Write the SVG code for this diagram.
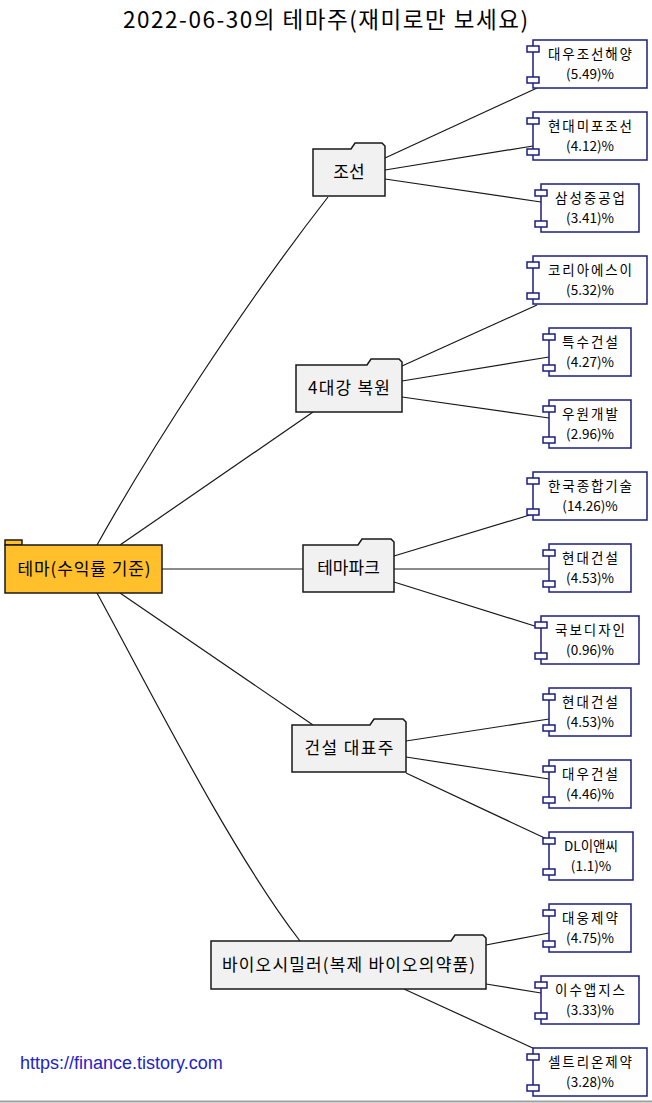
<svg xmlns="http://www.w3.org/2000/svg" width="652" height="1103" viewBox="0 0 652 1103">
<style>
text{font-family:"Noto Sans CJK KR","Noto Sans",sans-serif;fill:#000}
.title{font-size:22.5px}
.fl{font-size:17px}
.cl{font-size:13.5px}
.folder{fill:#F1F1F1;stroke:#181818;stroke-width:1.5}
.root{fill:#FFC02B;stroke:#181818;stroke-width:1.5}
.comp rect{fill:#FEFEFE;stroke:#1C1C80;stroke-width:1.5}
.edge{fill:none;stroke:#181818;stroke-width:1.2}
.url{font-family:"Liberation Sans",Arial,sans-serif;font-size:18px;fill:#2222CC}
</style>
<rect width="652" height="1103" fill="#FFFFFF"/>
<text class="title" x="325.5" y="28" text-anchor="middle" textLength="405" lengthAdjust="spacing">2022-06-30의 테마주(재미로만 보세요)</text>

<g id="connectors">
<path class="edge" d="M97,545 C150,450 240,310 328,197"/>
<path class="edge" d="M120,545 L313,412"/>
<path class="edge" d="M162,569 L303,569"/>
<path class="edge" d="M120,593 L313,725"/>
<path class="edge" d="M97,593 C150,690 230,850 300,941"/>
<path class="edge" d="M385,158 L537,88"/>
<path class="edge" d="M385,170 L533,146"/>
<path class="edge" d="M385,179 L541,202"/>
<path class="edge" d="M402,366 L537,305"/>
<path class="edge" d="M402,381 L549,357"/>
<path class="edge" d="M402,397 L549,418"/>
<path class="edge" d="M394,556 L533,514"/>
<path class="edge" d="M394,569 L549,569"/>
<path class="edge" d="M394,582 L541,628"/>
<path class="edge" d="M406,741 L549,719"/>
<path class="edge" d="M406,757 L549,779"/>
<path class="edge" d="M406,773 L549,840"/>
<path class="edge" d="M486,945 L549,933"/>
<path class="edge" d="M486,984 L541,993"/>
<path class="edge" d="M404,989 L537,1050"/>
</g>

<g id="root">
<rect class="root" x="5" y="540" width="17" height="5"/>
<rect class="root" x="5" y="545" width="157" height="48"/>
<text class="fl" x="84" y="575" text-anchor="middle" textLength="133" lengthAdjust="spacing">테마(수익률 기준)</text>
</g>

<g id="f-josun">
<path class="folder" d="M313,149 H351 L355,143 H382 L385,146 V196 H313 Z"/>
<text class="fl" x="349" y="178" text-anchor="middle">조선</text>
</g>
<g id="f-4river">
<path class="folder" d="M296,365 H367 L371,359 H399 L402,362 V412 H296 Z"/>
<text class="fl" x="349" y="394" text-anchor="middle" textLength="82" lengthAdjust="spacing">4대강 복원</text>
</g>
<g id="f-themepark">
<path class="folder" d="M303,545 H358 L362,539 H391 L394,542 V592 H303 Z"/>
<text class="fl" x="348.5" y="574" text-anchor="middle">테마파크</text>
</g>
<g id="f-construct">
<path class="folder" d="M292,725 H370 L374,719 H403 L406,722 V772 H292 Z"/>
<text class="fl" x="349" y="754" text-anchor="middle" textLength="89" lengthAdjust="spacing">건설 대표주</text>
</g>
<g id="f-bio">
<path class="folder" d="M211,941 H451 L455,935 H483 L486,938 V989 H211 Z"/>
<text class="fl" x="348.5" y="971" text-anchor="middle" textLength="253" lengthAdjust="spacing">바이오시밀러(복제 바이오의약품)</text>
</g>

<g id="c1" class="comp"><rect x="533" y="40" width="114" height="48"/><rect x="527" y="46" width="12" height="6"/><rect x="527" y="77" width="12" height="6"/><text class="cl" x="590" y="58.5" text-anchor="middle" textLength="84" lengthAdjust="spacing">대우조선해양</text><text class="cl" x="590" y="78.5" text-anchor="middle">(5.49)%</text></g>
<g id="c2" class="comp"><rect x="533" y="112" width="114" height="48"/><rect x="527" y="118" width="12" height="6"/><rect x="527" y="149" width="12" height="6"/><text class="cl" x="590" y="130.5" text-anchor="middle" textLength="84" lengthAdjust="spacing">현대미포조선</text><text class="cl" x="590" y="150.5" text-anchor="middle">(4.12)%</text></g>
<g id="c3" class="comp"><rect x="541" y="184" width="98" height="48"/><rect x="535" y="190" width="12" height="6"/><rect x="535" y="221" width="12" height="6"/><text class="cl" x="590" y="202.5" text-anchor="middle" textLength="70" lengthAdjust="spacing">삼성중공업</text><text class="cl" x="590" y="222.5" text-anchor="middle">(3.41)%</text></g>
<g id="c4" class="comp"><rect x="533" y="256" width="114" height="48"/><rect x="527" y="262" width="12" height="6"/><rect x="527" y="293" width="12" height="6"/><text class="cl" x="590" y="274.5" text-anchor="middle" textLength="84" lengthAdjust="spacing">코리아에스이</text><text class="cl" x="590" y="294.5" text-anchor="middle">(5.32)%</text></g>
<g id="c5" class="comp"><rect x="549" y="328" width="82" height="48"/><rect x="543" y="334" width="12" height="6"/><rect x="543" y="365" width="12" height="6"/><text class="cl" x="590" y="346.5" text-anchor="middle" textLength="56" lengthAdjust="spacing">특수건설</text><text class="cl" x="590" y="366.5" text-anchor="middle">(4.27)%</text></g>
<g id="c6" class="comp"><rect x="549" y="400" width="82" height="48"/><rect x="543" y="406" width="12" height="6"/><rect x="543" y="437" width="12" height="6"/><text class="cl" x="590" y="418.5" text-anchor="middle" textLength="56" lengthAdjust="spacing">우원개발</text><text class="cl" x="590" y="438.5" text-anchor="middle">(2.96)%</text></g>
<g id="c7" class="comp"><rect x="533" y="472" width="114" height="48"/><rect x="527" y="478" width="12" height="6"/><rect x="527" y="509" width="12" height="6"/><text class="cl" x="590" y="490.5" text-anchor="middle" textLength="84" lengthAdjust="spacing">한국종합기술</text><text class="cl" x="590" y="510.5" text-anchor="middle">(14.26)%</text></g>
<g id="c8" class="comp"><rect x="549" y="544" width="82" height="48"/><rect x="543" y="550" width="12" height="6"/><rect x="543" y="581" width="12" height="6"/><text class="cl" x="590" y="562.5" text-anchor="middle" textLength="56" lengthAdjust="spacing">현대건설</text><text class="cl" x="590" y="582.5" text-anchor="middle">(4.53)%</text></g>
<g id="c9" class="comp"><rect x="541" y="616" width="98" height="48"/><rect x="535" y="622" width="12" height="6"/><rect x="535" y="653" width="12" height="6"/><text class="cl" x="590" y="634.5" text-anchor="middle" textLength="70" lengthAdjust="spacing">국보디자인</text><text class="cl" x="590" y="654.5" text-anchor="middle">(0.96)%</text></g>
<g id="c10" class="comp"><rect x="549" y="688" width="82" height="48"/><rect x="543" y="694" width="12" height="6"/><rect x="543" y="725" width="12" height="6"/><text class="cl" x="590" y="706.5" text-anchor="middle" textLength="56" lengthAdjust="spacing">현대건설</text><text class="cl" x="590" y="726.5" text-anchor="middle">(4.53)%</text></g>
<g id="c11" class="comp"><rect x="549" y="760" width="82" height="48"/><rect x="543" y="766" width="12" height="6"/><rect x="543" y="797" width="12" height="6"/><text class="cl" x="590" y="778.5" text-anchor="middle" textLength="56" lengthAdjust="spacing">대우건설</text><text class="cl" x="590" y="798.5" text-anchor="middle">(4.46)%</text></g>
<g id="c12" class="comp"><rect x="549" y="832" width="84" height="48"/><rect x="543" y="838" width="12" height="6"/><rect x="543" y="869" width="12" height="6"/><text class="cl" x="591" y="850.5" text-anchor="middle">DL이앤씨</text><text class="cl" x="591" y="870.5" text-anchor="middle">(1.1)%</text></g>
<g id="c13" class="comp"><rect x="549" y="904" width="82" height="48"/><rect x="543" y="910" width="12" height="6"/><rect x="543" y="941" width="12" height="6"/><text class="cl" x="590" y="922.5" text-anchor="middle" textLength="56" lengthAdjust="spacing">대웅제약</text><text class="cl" x="590" y="942.5" text-anchor="middle">(4.75)%</text></g>
<g id="c14" class="comp"><rect x="541" y="976" width="98" height="48"/><rect x="535" y="982" width="12" height="6"/><rect x="535" y="1013" width="12" height="6"/><text class="cl" x="590" y="994.5" text-anchor="middle" textLength="70" lengthAdjust="spacing">이수앱지스</text><text class="cl" x="590" y="1014.5" text-anchor="middle">(3.33)%</text></g>
<g id="c15" class="comp"><rect x="533" y="1048" width="114" height="48"/><rect x="527" y="1054" width="12" height="6"/><rect x="527" y="1085" width="12" height="6"/><text class="cl" x="590" y="1066.5" text-anchor="middle" textLength="84" lengthAdjust="spacing">셀트리온제약</text><text class="cl" x="590" y="1086.5" text-anchor="middle">(3.28)%</text></g>

<text class="url" x="20" y="1069">https://finance.tistory.com</text>
<line x1="0" y1="1101.5" x2="652" y2="1101.5" stroke="#A0A0A0" stroke-width="2"/>
</svg>
